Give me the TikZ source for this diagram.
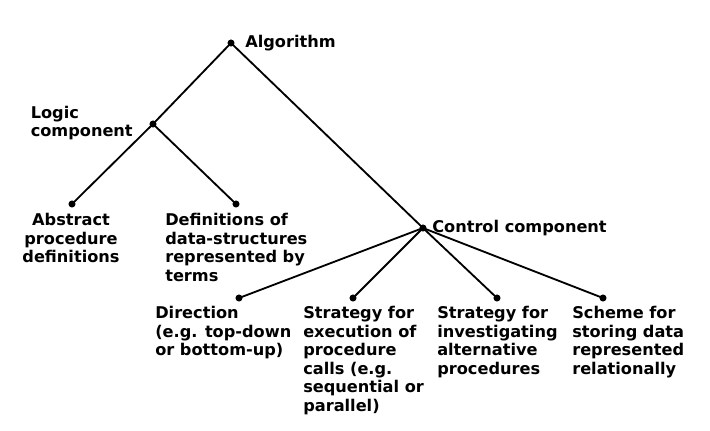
\documentclass[tikz,border=0pt]{standalone}
\usepackage{fontspec}
\setmainfont{DejaVu Sans}
\usetikzlibrary{positioning}
\tikzset{
	dot/.style = {circle, fill, inner sep = 0pt, minimum size = 5pt},
	lbl/.style = {inner sep = 0pt, align = left, font = \fontsize{11.5}{13.2}\selectfont\bfseries},
	edge/.style = {line width = 1.3pt}
}
\begin{document}
\begin{tikzpicture}[x = 0.025cm, y = -0.025cm]
	\useasboundingbox (0,0) rectangle (710,430);
	% the tree
	\node [dot] (alg) at (231,43) {};
	\node [dot] (logic) at (153,124) {};
	\node [dot] (abs) at (72,204) {};
	\node [dot] (defs) at (236,204) {};
	\node [dot] (ctrl) at (423,228) {};
	\node [dot] (dir) at (239,298) {};
	\node [dot] (exec) at (353,298) {};
	\node [dot] (inv) at (497,298) {};
	\node [dot] (store) at (603,298) {};
	\draw [edge] (alg.center) -- (logic.center) -- (abs.center);
	\draw [edge] (logic.center) -- (defs.center);
	\draw [edge] (alg.center) -- (ctrl.center);
	\foreach \leaf in {dir, exec, inv, store}
		\draw [edge] (ctrl.center) -- (\leaf.center);
	% labels
	\node [lbl, anchor = west] (algtxt) at (245,43) {Algorithm};
	\node [lbl, anchor = east] (logictxt) at (133,123) {Logic\\component};
	\node [lbl, anchor = north, align = center] (abstxt) at (71,213) {Abstract\\procedure\\definitions};
	\node [lbl, anchor = north west] (defstxt) at (165,213) {Definitions of\\data-structures\\represented by\\terms};
	\node [lbl, anchor = west] (ctrltxt) at (432,228) {Control component};
	\node [lbl, anchor = north west] (dirtxt) at (155,306) {Direction\\(e.g. top-down\\or bottom-up)};
	\node [lbl, anchor = north west] (exectxt) at (303,306) {Strategy for\\execution of\\procedure\\calls (e.g.\\sequential or\\parallel)};
	\node [lbl, anchor = north west] (invtxt) at (437,306) {Strategy for\\investigating\\alternative\\procedures};
	\node [lbl, anchor = north west] (storetxt) at (572,306) {Scheme for\\storing data\\represented\\relationally};
\end{tikzpicture}
\end{document}
